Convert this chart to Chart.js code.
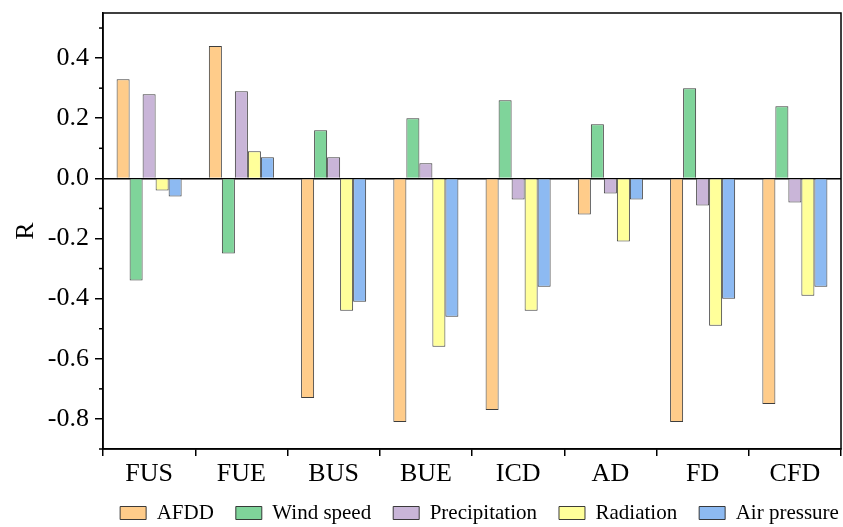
<!DOCTYPE html>
<html>
<head>
<meta charset="utf-8">
<script src="https://cdn.jsdelivr.net/npm/chart.js@4.4.0/dist/chart.umd.min.js"></script>
<style>
    html, body { margin: 0; padding: 0; background: #fff; }
    canvas { display: block; }
</style>
</head>
<body>
<canvas id="graphique_r" width="843" height="527"></canvas>
<script>
const categories = ['FUS', 'FUE', 'BUS', 'BUE', 'ICD', 'AD', 'FD', 'CFD'];
const afdd = [0.33, 0.44, -0.73, -0.81, -0.77, -0.12, -0.81, -0.75];
const wind_speed = [-0.34, -0.25, 0.16, 0.20, 0.26, 0.18, 0.30, 0.24];
const precipitation = [0.28, 0.29, 0.07, 0.05, -0.07, -0.05, -0.09, -0.08];
const radiation = [-0.04, 0.09, -0.44, -0.56, -0.44, -0.21, -0.49, -0.39];
const air_pressure = [-0.06, 0.07, -0.41, -0.46, -0.36, -0.07, -0.40, -0.36];

Chart.defaults.font.family = "'Liberation Serif', 'Times New Roman', serif";
Chart.defaults.color = '#000';

// position de la legende (elle n'est pas centree sur le canvas)
const legende_dx = 59;
const legende_top = 480.5;

const cadre = {
    id: 'cadre',
    afterLayout(chart) {
        const leg = chart.legend;
        const h = leg.bottom - leg.top;
        leg.left += legende_dx;
        leg.right += legende_dx;
        leg.top = legende_top;
        leg.bottom = legende_top + h;
    },
    afterDraw(chart) {
        const ctx = chart.ctx;
        const a = chart.chartArea;
        const y = chart.scales.y;
        ctx.save();
        ctx.strokeStyle = '#000';
        ctx.lineWidth = 1.5;
        ctx.strokeRect(a.left, a.top, a.right - a.left, a.bottom - a.top);
        // petits traits secondaires
        y.ticks.forEach(function (t) {
            if (Math.round(t.value * 10) % 2 !== 0) {
                const py = y.getPixelForValue(t.value);
                ctx.beginPath();
                ctx.moveTo(a.left - 4, py);
                ctx.lineTo(a.left, py);
                ctx.stroke();
            }
        });
        ctx.restore();
    }
};

const bordure = 'rgba(40,40,40,0.9)';

new Chart(document.getElementById('graphique_r').getContext('2d'), {
    type: 'bar',
    data: {
        labels: categories,
        datasets: [
            { label: 'AFDD', data: afdd, backgroundColor: '#FFCC8A' },
            { label: 'Wind speed', data: wind_speed, backgroundColor: '#7FD49A' },
            { label: 'Precipitation', data: precipitation, backgroundColor: '#C9B5D8' },
            { label: 'Radiation', data: radiation, backgroundColor: '#FFFF9A' },
            { label: 'Air pressure', data: air_pressure, backgroundColor: '#8DBAF2' }
        ]
    },
    options: {
        responsive: false,
        animation: false,
        devicePixelRatio: 1,
        layout: { padding: { top: 13, right: 2, left: 0, bottom: -25 } },
        datasets: {
            bar: {
                borderColor: bordure,
                borderWidth: 1,
                categoryPercentage: 0.705,
                barPercentage: 1
            }
        },
        plugins: {
            tooltip: { enabled: false },
            legend: {
                position: 'bottom',
                labels: {
                    font: { size: 21, lineHeight: 1 },
                    boxWidth: 26,
                    boxHeight: 13,
                    padding: 22
                }
            }
        },
        scales: {
            x: {
                afterFit: function (s) { s.height = 50; },
                grid: {
                    offset: true,
                    drawOnChartArea: false,
                    color: '#000',
                    lineWidth: 1.5,
                    tickLength: 7
                },
                border: { color: '#000', width: 1.5 },
                ticks: { font: { size: 26 }, padding: 3, maxRotation: 0, autoSkip: false }
            },
            y: {
                min: -0.9,
                max: 0.55,
                afterFit: function (s) {
                    s.width = 103;
                    s.paddingTop = 0;
                    s.paddingBottom = 0;
                },
                grid: {
                    drawOnChartArea: true,
                    lineWidth: 1.5,
                    tickLength: 8,
                    color: function (c) {
                        return c.tick && Math.abs(c.tick.value) < 1e-6 ? '#000' : 'rgba(0,0,0,0)';
                    },
                    tickColor: function (c) {
                        return Math.round(c.tick.value * 10) % 2 === 0 ? '#000' : 'rgba(0,0,0,0)';
                    }
                },
                border: { color: '#000', width: 1.5 },
                title: { display: true, text: 'R', font: { size: 26 }, padding: { top: 11, bottom: 0 } },
                ticks: {
                    stepSize: 0.1,
                    includeBounds: false,
                    autoSkip: false,
                    font: { size: 26 },
                    padding: 6,
                    callback: function (v) {
                        const n = Math.round(v * 10);
                        if (n % 2 !== 0) return '';
                        return (n / 10).toFixed(1);
                    }
                }
            }
        }
    },
    plugins: [cadre]
});
</script>
</body>
</html>
